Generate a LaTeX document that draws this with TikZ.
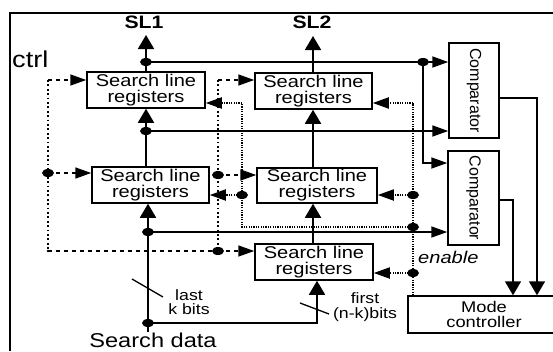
\documentclass[tikz,border=0pt]{standalone}
\usepackage{fontspec}
\setmainfont{Liberation Sans}[FakeStretch=1.18]
\newfontfamily\cmpfont{Liberation Sans}
\usetikzlibrary{arrows.meta,calc}
\begin{document}
\begin{tikzpicture}[x=1pt,y=-1pt,
  box/.style={draw, line width=1.5pt, inner sep=0pt, align=center, font=\fontsize{17}{16}\selectfont},
  cmptext/.style={rotate=-90, inner sep=0pt, font=\cmpfont\fontsize{16}{16}\selectfont},
  con/.style={line width=1.8pt},
  htip/.style={-{Triangle[length=16pt,width=11pt]}},
  vtip/.style={-{Triangle[length=14pt,width=16pt]}},
  dsh/.style={line width=1.6pt, dash pattern=on 4pt off 4pt},
  dtl/.style={line width=2pt, dash pattern=on 1.8pt off 2.6pt},
  ena/.style={line width=1.8pt, dash pattern=on 1.3pt off 1.1pt},
  lbl/.style={inner sep=0pt, align=center}
]
\useasboundingbox (0,0) rectangle (553,351);
\clip (0,0) rectangle (553,351);
\fill[white] (0,0) rectangle (553,351);

% frame
\draw[line width=2.6pt] (10,351) -- (10,13) -- (560,13);

% boxes
\node[box, minimum width=118pt, minimum height=36pt] (B1) at (146,90) {Search line\\registers};
\node[box, minimum width=117pt, minimum height=36pt] (B2) at (313.5,91) {Search line\\registers};
\node[box, minimum width=117pt, minimum height=36pt] (B3) at (150.5,185) {Search line\\registers};
\node[box, minimum width=120pt, minimum height=35pt] (B4) at (317,185.5) {Search line\\registers};
\node[box, minimum width=118pt, minimum height=36pt] (B5) at (314,262) {Search line\\registers};
\node[box, minimum width=50pt, minimum height=95pt] (C1) at (474,90.5) {};
\node[cmptext] (C1t) at (C1) {Comparator};
\node[box, minimum width=51pt, minimum height=94pt] (C2) at (473.5,198) {};
\node[cmptext] (C2t) at (C2) {Comparator};
\node[box, minimum width=152pt, minimum height=37pt, font=\fontsize{15.5}{15.5}\selectfont] (M) at (484,314.5) {Mode\\controller};

% texts
\node[lbl, anchor=base, font=\bfseries\fontsize{18}{18}\selectfont] (SL1) at (144,28) {SL1};
\node[lbl, anchor=base, font=\bfseries\fontsize{18}{18}\selectfont] (SL2) at (312,28) {SL2};
\node[lbl, anchor=base west, font=\fontsize{23}{23}\selectfont] (ctrl) at (12,67) {ctrl};
\node[lbl, anchor=base, font=\fontsize{20}{20}\selectfont] (SD) at (153,347) {Search data};
\node[lbl, anchor=base west, font=\itshape\fontsize{17}{17}\selectfont] (en) at (418,263) {enable};
\node[lbl, font=\fontsize{15}{14.5}\selectfont] (lk) at (189,302) {last\\k bits};
\node[lbl, font=\fontsize{15}{14.5}\selectfont] (fk) at (365,307) {first\\(n-k)bits};

% junction coordinates
\coordinate (sl1e) at (146,35);
\coordinate (sl2e) at (313,36);
\coordinate (J1) at (146,62);
\coordinate (J2) at (423,62);
\coordinate (J3) at (146,131);
\coordinate (J4) at (148,232);
\coordinate (J5) at (148,323);
\coordinate (SDt) at (148,332);

% solid connectors
\draw[con,vtip] (B1.north) -- (sl1e);
\draw[con,vtip] (B2.north -| sl2e) -- (sl2e);
\draw[con,htip] (J1) -- (J1 -| C1.west);
\draw[con,htip] (J2) |- (C2.west |- 0,163);
\draw[con,vtip] (B3.north -| B1.south) -- (B1.south);
\draw[con,htip] (J3) -- (J3 -| C1.west);
\draw[con,vtip] (B4.north -| sl2e) -- (B2.south -| sl2e);
\draw[con,vtip] (B5.north -| sl2e) -- (B4.south -| sl2e);
\draw[con,vtip] (SDt) -- (B3.south -| SDt);
\draw[con,htip] (J4) -- (J4 -| C2.west);
\draw[con,vtip] (J5) -| ([xshift=3pt]B5.south);
\draw[con,vtip] (C1.east |- 0,98) -| (M.north -| 537,0);
\draw[con,vtip] (C2.east |- 0,200) -| (M.north -| 513,0);
% bus slashes
\draw[line width=1.3pt] (132,279) -- (163,297);
\draw[line width=1.3pt] (300,303) -- (329,314);

% ctrl lines
\coordinate (K1) at (48,80);
\coordinate (K2) at (48,173);
\coordinate (K3) at (48,251);
\coordinate (K4) at (218,80);
\coordinate (K5) at (218,175);
\coordinate (K6) at (218,251);
\draw[dtl] (K1) -- (K3);
\draw[dtl] (K4) -- (K6);
\draw[dsh,htip] (K1) -- (B1.west |- K1);
\draw[dsh,htip] (K2) -- (B3.west |- K2);
\draw[dsh] (K3) -- (K6);
\draw[dsh,htip] (K6) -- (B5.west |- K6);
\draw[dsh,htip] (K4) -- (B2.west |- K4);
\draw[dsh,htip] (K5) -- (B4.west |- K5);

% enable lines
\coordinate (E0) at (413,296);
\coordinate (E1) at (413,103);
\coordinate (E2) at (413,195);
\coordinate (E3) at (413,227);
\coordinate (E4) at (413,273);
\coordinate (E5) at (242,227);
\coordinate (E6) at (242,103);
\coordinate (E7) at (242,195);
\draw[ena] (M.north -| E0) -- (E1);
\draw[ena,htip] (E1) -- (B2.east |- E1);
\draw[ena,htip] (E2) -- (B4.east |- E2);
\draw[ena,htip] (E4) -- (B5.east |- E4);
\draw[ena] (E3) -- (E5) -- (E6);
\draw[ena,htip] (E6) -- (B1.east |- E6);
\draw[ena,htip] (E7) -- (B3.east |- E7);

% dots
\foreach \p in {J1,J2,J3,J4,J5,K2,K5,K6,E2,E3,E4,E7}
  \fill (\p) ellipse [x radius=6, y radius=4];
\fill (K3) circle [radius=1.4];
\end{tikzpicture}
\end{document}
